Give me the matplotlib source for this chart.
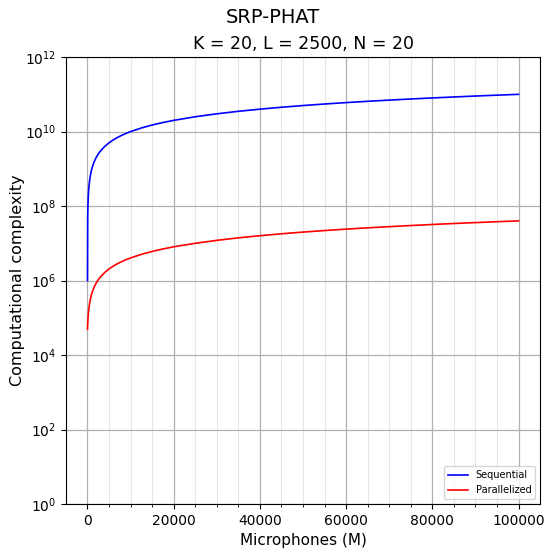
import matplotlib
matplotlib.use("Agg")
import matplotlib.pyplot as plt
from matplotlib.ticker import MultipleLocator, NullLocator

# number of microphones
mics = [1, 50, 100, 200, 300, 500, 750, 1000, 1500, 2000, 2500, 3000, 4000,
        5000, 6000, 7000, 8000, 9000, 10000, 12500, 15000, 17500, 20000,
        25000, 30000, 35000, 40000, 45000, 50000, 55000, 60000, 65000,
        70000, 75000, 80000, 85000, 90000, 95000, 100000]

# computational complexity per approach
sequential = [1e6, 5e7, 1e8, 2e8, 3e8, 5e8, 7.5e8, 1e9, 1.5e9, 2e9, 2.5e9,
              3e9, 4e9, 5e9, 6e9, 7e9, 8e9, 9e9, 1e10, 1.25e10, 1.5e10,
              1.75e10, 2e10, 2.5e10, 3e10, 3.5e10, 4e10, 4.5e10, 5e10, 5.5e10,
              6e10, 6.5e10, 7e10, 7.5e10, 8e10, 8.5e10, 9e10, 9.5e10, 1e11]
parallelized = [5e4, 7e4, 9e4, 1.3e5, 1.7e5, 2.5e5, 3.5e5, 4.5e5, 6.5e5,
                8.5e5, 1.05e6, 1.25e6, 1.65e6, 2.05e6, 2.45e6, 2.85e6,
                3.25e6, 3.65e6, 4.05e6, 5.05e6, 6.05e6, 7.05e6, 8.05e6,
                1e7, 1.2e7, 1.4e7, 1.6e7, 1.8e7, 2e7, 2.2e7, 2.4e7, 2.6e7,
                2.8e7, 3e7, 3.2e7, 3.4e7, 3.6e7, 3.8e7, 4e7]

ytick_vals = [1e0, 1e2, 1e4, 1e6, 1e8, 1e10, 1e12]

fig = plt.figure(figsize=(5.45, 5.49), dpi=100)
ax = fig.add_axes([0.121, 0.082, 0.870, 0.814])

ax.plot(mics, sequential, color="blue", lw=1.2, label="Sequential")
ax.plot(mics, parallelized, color="red", lw=1.2, label="Parallelized")

ax.set_yscale("log")
ax.set_ylim(1, 1e12)
ax.set_yticks(ytick_vals)
ax.yaxis.set_minor_locator(NullLocator())
ax.xaxis.set_minor_locator(MultipleLocator(5000))

ax.grid(True, which="major", color="#b0b0b0", lw=0.9)
ax.grid(True, which="minor", axis="x", color="#e6e6e6", lw=0.8)
ax.set_axisbelow(True)

ax.tick_params(labelsize=10)
ax.set_xlabel("Microphones (M)", fontsize=11)
ax.set_ylabel("Computational complexity", fontsize=11.5, labelpad=0)
ax.set_title("K = 20, L = 2500, N = 20", fontsize=12.5)
fig.suptitle("SRP-PHAT", fontsize=14, y=0.985)

ax.legend(loc="lower right", fontsize=7)

fig.savefig("out.png", dpi=100)
